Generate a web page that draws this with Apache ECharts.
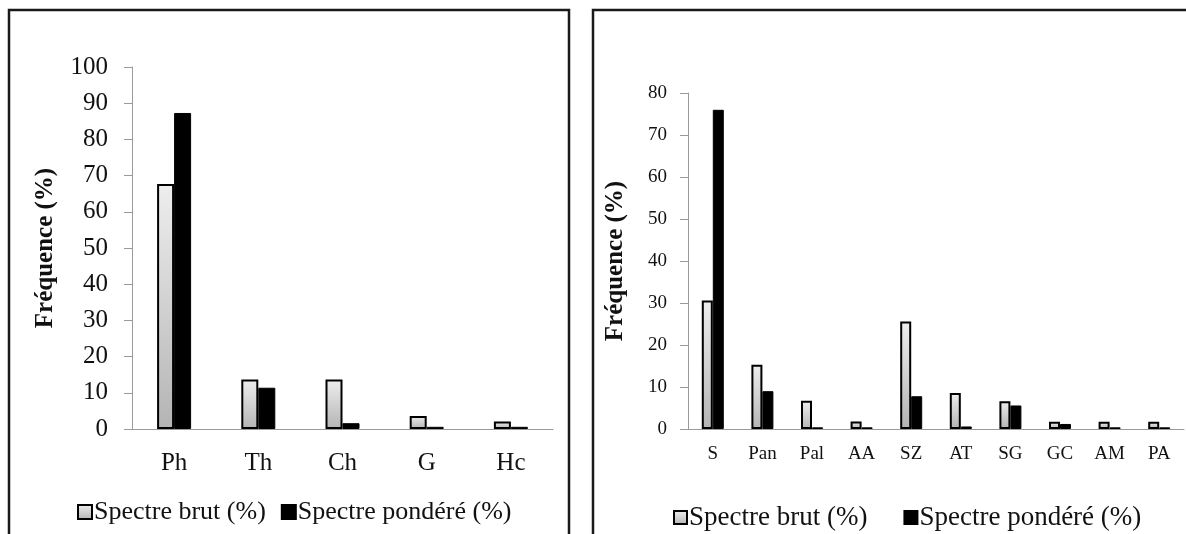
<!DOCTYPE html>
<html>
<head>
<meta charset="utf-8">
<script src="https://cdn.jsdelivr.net/npm/echarts@6/dist/echarts.min.js"></script>
<style>
  html, body { margin: 0; padding: 0; background: #fff; }
  #main { width: 1186px; height: 534px; }
</style>
</head>
<body>
<div id="main"></div>
<script>
// left panel: life forms
var formCategories = ["Ph", "Th", "Ch", "G", "Hc"];
var formBrut = [67.7, 13.7, 13.7, 3.6, 2.1];
var formPondere = [87.3, 11.4, 1.6, 0.6, 0.6];
var formTicks = [0, 10, 20, 30, 40, 50, 60, 70, 80, 90, 100];

// right panel: chorology
var choroCategories = ["S", "Pan", "Pal", "AA", "SZ", "AT", "SG", "GC", "AM", "PA"];
var choroBrut = [30.6, 15.3, 6.7, 1.8, 25.6, 8.6, 6.6, 1.7, 1.7, 1.7];
var choroPondere = [76.0, 9.0, 0.4, 0.4, 7.8, 0.6, 5.6, 1.2, 0.4, 0.4];
var choroTicks = [0, 10, 20, 30, 40, 50, 60, 70, 80];

var serifFont = "'Liberation Serif', 'Times New Roman', serif";
var brutName = "Spectre brut (%)";
var pondName = "Spectre pondéré (%)";

var myChart = echarts.init(document.getElementById("main"));

var grayFill = new echarts.graphic.LinearGradient(0, 0, 0, 1, [
    { offset: 0, color: "#eeeeee" },
    { offset: 1, color: "#b4b4b4" }
]);

function catAxis(idx, cats, fontSize, margin) {
    return {
        type: "category", gridIndex: idx, data: cats,
        axisLine: { lineStyle: { color: "#9a9a9a", width: 1 } },
        axisTick: { alignWithLabel: true, length: 5, lineStyle: { color: "#9a9a9a" } },
        axisLabel: { fontFamily: serifFont, fontSize: fontSize, color: "#111", margin: margin }
    };
}

function valAxis(idx, ticks, fontSize, margin, nameSize, nameGap) {
    return {
        type: "value", gridIndex: idx,
        min: ticks[0], max: ticks[ticks.length - 1], interval: 10,
        name: "Fréquence (%)", nameLocation: "middle", nameRotate: 90, nameGap: nameGap,
        nameTextStyle: { fontFamily: serifFont, fontSize: nameSize, fontWeight: "bold", color: "#111" },
        axisLine: { show: true, lineStyle: { color: "#9a9a9a", width: 1 } },
        axisTick: { show: true, length: 8, lineStyle: { color: "#9a9a9a" } },
        splitLine: { show: false },
        axisLabel: { fontFamily: serifFont, fontSize: fontSize, color: "#111", margin: margin }
    };
}

function barSeries(name, xi, data, width, black) {
    return {
        name: name, type: "bar", xAxisIndex: xi, yAxisIndex: xi,
        data: data, barWidth: width, barGap: "0%",
        itemStyle: black
            ? { color: "#000", borderColor: "#000", borderWidth: 1 }
            : { color: grayFill, borderColor: "#000", borderWidth: 2 }
    };
}

var option = {
    animation: false,
    backgroundColor: "#fff",
    graphic: [
        { type: "rect", shape: { x: 9, y: 10, width: 560, height: 540 },
          style: { fill: "none", stroke: "#1a1a1a", lineWidth: 2.5 } },
        { type: "rect", shape: { x: 593, y: 10, width: 620, height: 540 },
          style: { fill: "none", stroke: "#1a1a1a", lineWidth: 2.5 } }
    ],
    grid: [
        { left: 132, top: 67, width: 421, height: 362 },
        { left: 688, top: 93, width: 496, height: 336 }
    ],
    legend: [
        {
            data: [brutName, pondName], left: 72, top: 494,
            icon: "rect", itemWidth: 14, itemHeight: 14, itemGap: 15,
            textStyle: { fontFamily: serifFont, fontSize: 26, color: "#111", padding: [0, 0, 0, -3] }
        },
        {
            data: [brutName, pondName], left: 668, top: 499,
            icon: "rect", itemWidth: 13, itemHeight: 13, itemGap: 36,
            textStyle: { fontFamily: serifFont, fontSize: 27, color: "#111", padding: [0, 0, 0, -3] }
        }
    ],
    xAxis: [
        catAxis(0, formCategories, 25, 22),
        catAxis(1, choroCategories, 19, 16)
    ],
    yAxis: [
        valAxis(0, formTicks, 25, 24, 25, 74),
        valAxis(1, choroTicks, 19, 21, 25, 60)
    ],
    series: [
        barSeries(brutName, 0, formBrut, 17, false),
        barSeries(pondName, 0, formPondere, 17, true),
        barSeries(brutName, 1, choroBrut, 11, false),
        barSeries(pondName, 1, choroPondere, 11, true)
    ]
};

myChart.setOption(option);
</script>
</body>
</html>
